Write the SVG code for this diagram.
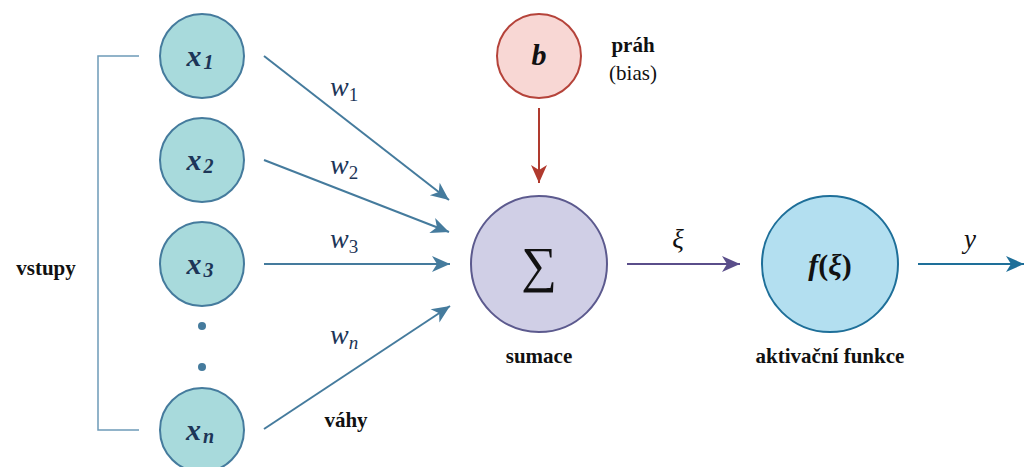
<svg xmlns="http://www.w3.org/2000/svg" width="1024" height="467" viewBox="0 0 1024 467">
<style>
text{font-family:"Liberation Serif","Times New Roman",Times,Tinos,"Nimbus Roman","Nimbus Roman No9 L",FreeSerif,"DejaVu Serif","Noto Serif",serif}
.inp{fill:#a8dadc;stroke:#457b9d;stroke-width:2}
.lbl{font-weight:bold;font-size:21px;fill:#111;text-anchor:middle}
.xm{font-style:italic;font-weight:bold;font-size:30px;fill:#1d3557}
.xs{font-style:italic;font-weight:bold;font-size:20px;fill:#1d3557}
.wm{font-style:italic;font-size:28px;fill:#1d3557}
.ws{font-size:19px;fill:#1d3557}
.wsi{font-style:italic;font-size:19px;fill:#1d3557}
.ca{stroke:#457b9d;stroke-width:2;fill:none}
</style>
<defs>
<marker id="ab" viewBox="0 0 10 10" refX="9" refY="5" markerWidth="10" markerHeight="10" markerUnits="userSpaceOnUse" orient="auto" overflow="visible">
<path d="M-9,-3 L9,5 L-9,13 L-4,5 Z" fill="#457b9d"/>
</marker>
<marker id="ar" viewBox="0 0 10 10" refX="9" refY="5" markerWidth="10" markerHeight="10" markerUnits="userSpaceOnUse" orient="auto" overflow="visible">
<path d="M-9,-3 L9,5 L-9,13 L-4,5 Z" fill="#b03a2e"/>
</marker>
<marker id="ap" viewBox="0 0 10 10" refX="9" refY="5" markerWidth="10" markerHeight="10" markerUnits="userSpaceOnUse" orient="auto" overflow="visible">
<path d="M-9,-3 L9,5 L-9,13 L-4,5 Z" fill="#5a4e8a"/>
</marker>
<marker id="at" viewBox="0 0 10 10" refX="9" refY="5" markerWidth="10" markerHeight="10" markerUnits="userSpaceOnUse" orient="auto" overflow="visible">
<path d="M-9,-3 L9,5 L-9,13 L-4,5 Z" fill="#1e6f99"/>
</marker>
</defs>
<rect width="1024" height="467" fill="#fff"/>

<g id="bracket">
<path d="M139,56 H98 V430 H139" fill="none" stroke="#6e9bb8" stroke-width="1.5"/>
<text class="lbl" x="46" y="275">vstupy</text>
</g>

<g id="x1"><circle class="inp" cx="202" cy="56" r="42"/><text x="200" y="66" text-anchor="middle"><tspan class="xm">x</tspan><tspan class="xs" dx="2" dy="3">1</tspan></text></g>
<g id="x2"><circle class="inp" cx="202" cy="160" r="42"/><text x="200" y="170" text-anchor="middle"><tspan class="xm">x</tspan><tspan class="xs" dx="2" dy="3">2</tspan></text></g>
<g id="x3"><circle class="inp" cx="202" cy="264" r="42"/><text x="200" y="274" text-anchor="middle"><tspan class="xm">x</tspan><tspan class="xs" dx="2" dy="3">3</tspan></text></g>
<g id="dots"><circle cx="202" cy="326" r="4" fill="#457b9d"/><circle cx="202" cy="367" r="4" fill="#457b9d"/></g>
<g id="xn"><circle class="inp" cx="202" cy="430" r="42"/><text x="200" y="440" text-anchor="middle"><tspan class="xm">x</tspan><tspan class="xs" dx="2" dy="3">n</tspan></text></g>

<g id="bias"><circle cx="539" cy="56" r="42" fill="#f8d7d4" stroke="#b5433a" stroke-width="2"/>
<text x="539" y="65" text-anchor="middle" font-style="italic" font-weight="bold" font-size="30" fill="#111">b</text>
<text class="lbl" x="633" y="52">práh</text>
<text x="633" y="80" text-anchor="middle" font-size="21" fill="#111">(bias)</text>
</g>

<g id="sum"><circle cx="539" cy="264" r="68" fill="#d0cfe6" stroke="#5c5a8e" stroke-width="2"/>
<text x="539" y="282" text-anchor="middle" font-size="50" fill="#111">∑</text>
<text class="lbl" x="539" y="363">sumace</text>
</g>

<g id="act"><circle cx="830" cy="264" r="68" fill="#b3dff0" stroke="#1e6f99" stroke-width="2"/>
<text x="830" y="275" text-anchor="middle" font-weight="bold" font-size="30" fill="#111"><tspan font-style="italic">f</tspan>(<tspan font-style="italic">ξ</tspan>)</text>
<text class="lbl" x="830" y="363">aktivační funkce</text>
</g>

<g id="connectors">
<line class="ca" x1="264" y1="56" x2="449" y2="200" marker-end="url(#ab)"/>
<line class="ca" x1="264" y1="160" x2="449" y2="232" marker-end="url(#ab)"/>
<line class="ca" x1="264" y1="264" x2="450" y2="264" marker-end="url(#ab)"/>
<line class="ca" x1="264" y1="429" x2="450" y2="306" marker-end="url(#ab)"/>
<line x1="539" y1="108" x2="539" y2="183" stroke="#b03a2e" stroke-width="2" marker-end="url(#ar)"/>
<line x1="627" y1="264" x2="740" y2="264" stroke="#5a4e8a" stroke-width="2" marker-end="url(#ap)"/>
<line x1="918" y1="264" x2="1024" y2="264" stroke="#1e6f99" stroke-width="2" marker-end="url(#at)"/>
<text x="330" y="96"><tspan class="wm">w</tspan><tspan class="ws" dy="5">1</tspan></text>
<text x="330" y="174"><tspan class="wm">w</tspan><tspan class="ws" dy="5">2</tspan></text>
<text x="330" y="248"><tspan class="wm">w</tspan><tspan class="ws" dy="5">3</tspan></text>
<text x="330" y="344"><tspan class="wm">w</tspan><tspan class="wsi" dy="5">n</tspan></text>
<text class="lbl" x="346" y="427">váhy</text>
<text x="678" y="248" text-anchor="middle" font-style="italic" font-size="27" fill="#111">ξ</text>
<text x="970" y="248" text-anchor="middle" font-style="italic" font-size="27" fill="#111">y</text>
</g>
</svg>
